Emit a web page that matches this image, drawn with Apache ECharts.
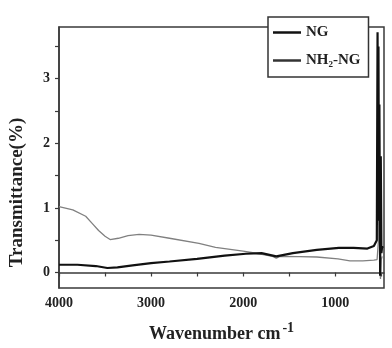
<!DOCTYPE html>
<html>
<head>
<meta charset="utf-8">
<script src="https://cdn.jsdelivr.net/npm/echarts@6/dist/echarts.min.js"></script>
<style>
  html, body { margin: 0; padding: 0; background: #fff; }
  #chart { width: 392px; height: 348px; }
</style>
</head>
<body>
<div id="chart"></div>
<script>
// NG (black, thick) - wavenumber / transmittance
const ngWave = [4000, 3800, 3600, 3475, 3365, 3200, 3000, 2800, 2500, 2200, 1970, 1800, 1640, 1460, 1200, 960, 800, 650, 580, 548, 540, 535, 530, 525, 520, 512, 505, 498, 490, 480];
const ngValue = [0.12, 0.12, 0.10, 0.07, 0.08, 0.11, 0.145, 0.17, 0.21, 0.26, 0.29, 0.30, 0.25, 0.30, 0.35, 0.38, 0.38, 0.37, 0.41, 0.5, 3.72, 1.5, 3.5, 0.8, 2.6, -0.05, 1.8, 0.3, 0.4, 0.38];

// NH2-NG (gray, thin)
const nhWave = [4000, 3850, 3710, 3640, 3570, 3500, 3445, 3355, 3250, 3130, 3000, 2800, 2480, 2300, 2000, 1825, 1680, 1640, 1600, 1390, 1200, 970, 840, 700, 580, 545, 530, 522, 516, 508, 500, 490];
const nhValue = [1.02, 0.97, 0.87, 0.76, 0.65, 0.56, 0.51, 0.53, 0.57, 0.59, 0.58, 0.53, 0.45, 0.39, 0.33, 0.29, 0.25, 0.22, 0.25, 0.245, 0.24, 0.21, 0.18, 0.18, 0.19, 0.2, 0.5, 2.4, 0.1, -0.1, 0.2, 0.25];

const xTicks = [4000, 3500, 3000, 2500, 2000, 1500, 1000, 500];
const xLabels = [4000, 3000, 2000, 1000];
const yTicks = [0, 0.5, 1, 1.5, 2, 2.5, 3, 3.5];
const yLabels = [0, 1, 2, 3];

const serif = "'Liberation Serif', 'Times New Roman', serif";
const axisColor = '#3a3a3a';

const chart = echarts.init(document.getElementById('chart'), null, { renderer: 'canvas' });

chart.setOption({
  backgroundColor: '#fff',
  animation: false,
  grid: {
    left: 58,
    right: 8,
    top: 27,
    bottom: 55,
    show: true,
    borderColor: axisColor,
    borderWidth: 1.5,
    backgroundColor: 'transparent',
  },
  legend: {
    left: 268,
    top: 17,
    orient: 'vertical',
    backgroundColor: '#fff',
    borderColor: '#333',
    borderWidth: 1.5,
    padding: [8, 8, 9, 5],
    itemWidth: 28,
    itemHeight: 2.5,
    itemGap: 13,
    textStyle: { fontFamily: serif, fontWeight: 'bold', fontSize: 15, color: '#222' },
    data: [
      { name: 'NG', icon: 'rect', itemStyle: { color: '#111' } },
      { name: 'NH₂-NG', icon: 'rect', itemStyle: { color: '#333' } },
    ],
  },
  xAxis: {
    type: 'value',
    min: 470,
    max: 4000,
    inverse: true,
    name: 'Wavenumber cm{sup|-1}',
    nameLocation: 'middle',
    nameGap: 33,
    nameTextStyle: {
      fontFamily: serif, fontWeight: 'bold', fontSize: 18, color: '#222',
      rich: { sup: { fontFamily: serif, fontWeight: 'bold', fontSize: 14, color: '#222', padding: [0, 0, 12, 2] } },
    },
    axisLine: { show: true, lineStyle: { color: axisColor, width: 1.5 } },
    axisTick: { show: true, length: 4, customValues: xTicks, lineStyle: { color: axisColor, width: 1.2 } },
    axisLabel: {
      customValues: xLabels,
      margin: 8,
      formatter: v => String(v),
      fontFamily: serif, fontWeight: 'bold', fontSize: 14, color: '#222',
    },
    splitLine: { show: false },
  },
  yAxis: {
    type: 'value',
    min: -0.24,
    max: 3.8,
    name: 'Transmittance(%)',
    nameLocation: 'middle',
    nameGap: 32,
    nameTextStyle: { fontFamily: serif, fontWeight: 'bold', fontSize: 19, color: '#222', padding: [0, 70, 0, 0] },
    axisLine: { show: true, lineStyle: { color: axisColor, width: 1.5 } },
    axisTick: { show: true, length: 4, customValues: yTicks, lineStyle: { color: axisColor, width: 1.2 } },
    axisLabel: {
      customValues: yLabels,
      margin: 9,
      fontFamily: serif, fontWeight: 'bold', fontSize: 14, color: '#222',
    },
    splitLine: { show: false },
  },
  series: [
    {
      name: 'NG',
      type: 'line',
      symbol: 'none',
      data: ngWave.map((w, i) => [w, ngValue[i]]),
      lineStyle: { color: '#111', width: 2.2 },
      itemStyle: { color: '#111' },
      z: 3,
    },
    {
      name: 'NH₂-NG',
      type: 'line',
      symbol: 'none',
      data: nhWave.map((w, i) => [w, nhValue[i]]),
      lineStyle: { color: '#808080', width: 1.3 },
      itemStyle: { color: '#555' },
      z: 2,
    },
  ],
});
</script>
</body>
</html>
